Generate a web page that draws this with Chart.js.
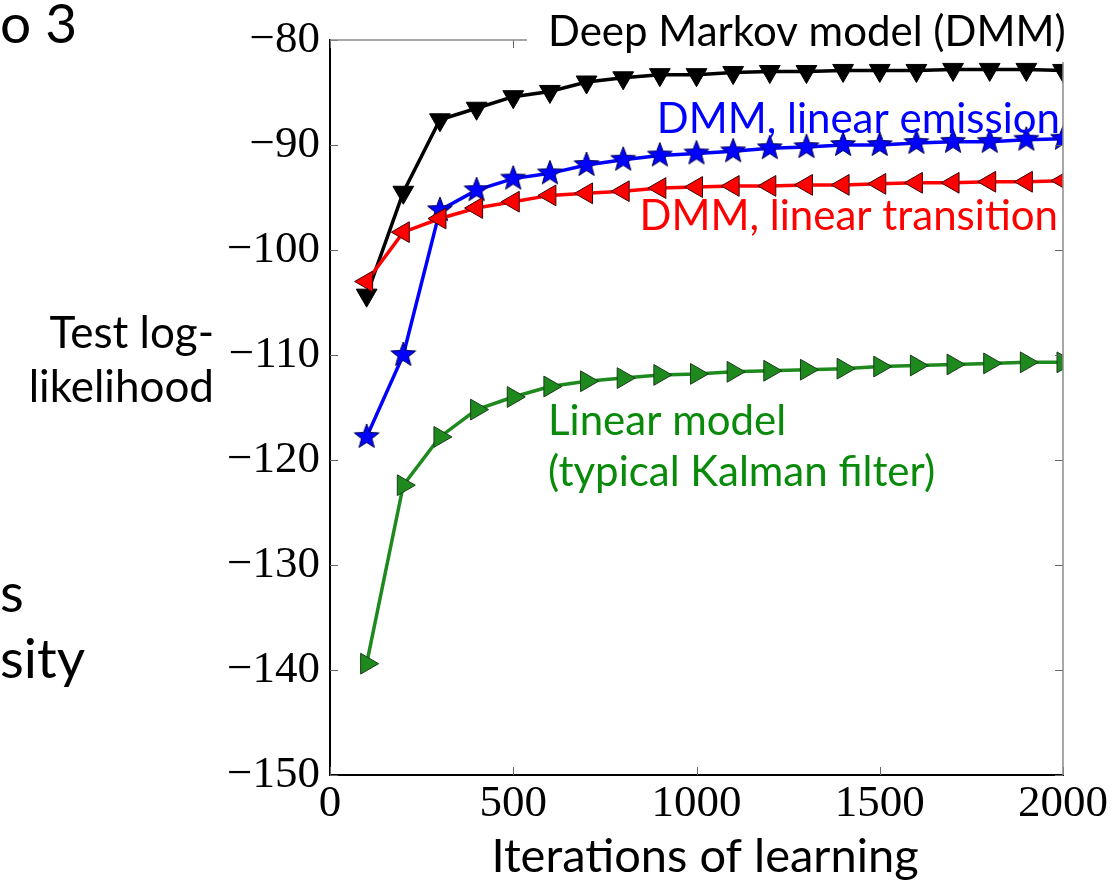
<!DOCTYPE html>
<html>
<head>
<meta charset="utf-8">
<script src="https://cdn.jsdelivr.net/npm/chart.js@4.4.1/dist/chart.umd.min.js"></script>
<style>
  html, body { margin: 0; padding: 0; background: #fff; }
  #wrap { width: 1120px; height: 884px; }
</style>
</head>
<body>
<div id="wrap"><canvas id="chart" width="1120" height="884"></canvas></div>
<script>
// iterations of learning (x values)
const iterations = [100, 200, 300, 400, 500, 600, 700, 800, 900, 1000,
  1100, 1200, 1300, 1400, 1500, 1600, 1700, 1800, 1900, 2000];

// test log-likelihood per model
const dmm = [-104.3, -94.5, -87.6, -86.5, -85.4, -84.9, -84.0, -83.6, -83.3, -83.3,
  -83.1, -83.0, -83.0, -82.9, -82.9, -82.9, -82.8, -82.8, -82.8, -82.9];
const dmmLinEmission = [-117.8, -110.0, -96.2, -94.3, -93.2, -92.7, -91.9, -91.4, -91.0, -90.8,
  -90.6, -90.3, -90.2, -90.0, -90.0, -89.8, -89.7, -89.7, -89.5, -89.4];
const dmmLinTransition = [-103.0, -98.3, -97.0, -96.0, -95.4, -94.8, -94.6, -94.4, -94.1, -94.0,
  -93.9, -93.9, -93.8, -93.8, -93.7, -93.6, -93.6, -93.5, -93.5, -93.4];
const linearModel = [-139.4, -122.4, -117.8, -115.2, -114.0, -113.0, -112.5, -112.2, -111.9, -111.8,
  -111.6, -111.5, -111.4, -111.3, -111.1, -111.0, -110.9, -110.8, -110.7, -110.7];

const xTicks = [0, 500, 1000, 1500, 2000];
const yTicks = [-150, -140, -130, -120, -110, -100, -90, -80];

function pts(ys) {
  return iterations.map((x, i) => ({ x: x, y: ys[i] }));
}

// filled 5-point star marker
function starMarker(fill, edge) {
  const c = document.createElement('canvas');
  c.width = 28; c.height = 28;
  const g = c.getContext('2d');
  g.beginPath();
  for (let i = 0; i < 10; i++) {
    const r = i % 2 === 0 ? 13 : 5.5;
    const a = -Math.PI / 2 + i * Math.PI / 5;
    const px = 14 + Math.cos(a) * r, py = 14 + Math.sin(a) * r;
    if (i === 0) g.moveTo(px, py); else g.lineTo(px, py);
  }
  g.closePath();
  g.fillStyle = fill;
  g.fill();
  g.lineWidth = 1;
  g.strokeStyle = edge;
  g.stroke();
  return c;
}

const serif = "'Liberation Serif', 'DejaVu Serif', serif";
const sans = "Lato, 'Open Sans', sans-serif";

const overlay = {
  id: 'overlay',
  afterDraw(chart) {
    const ctx = chart.ctx;
    const a = chart.chartArea;
    const xs = chart.scales.x, ys = chart.scales.y;
    ctx.save();
    // inner tick marks, matplotlib style
    ctx.strokeStyle = '#666';
    ctx.lineWidth = 1;
    yTicks.forEach(v => {
      const py = Math.round(ys.getPixelForValue(v)) + 0.5;
      ctx.beginPath();
      ctx.moveTo(a.left, py); ctx.lineTo(a.left + 8, py);
      ctx.moveTo(a.right, py); ctx.lineTo(a.right - 8, py);
      ctx.stroke();
    });
    xTicks.forEach(v => {
      const px = Math.round(xs.getPixelForValue(v)) + 0.5;
      ctx.beginPath();
      ctx.moveTo(px, a.bottom); ctx.lineTo(px, a.bottom - 8);
      ctx.moveTo(px, a.top); ctx.lineTo(px, a.top + 8);
      ctx.stroke();
    });
    // top and right spines
    ctx.strokeStyle = '#8a8a8a';
    ctx.lineWidth = 1.5;
    ctx.beginPath();
    ctx.moveTo(a.left, a.top); ctx.lineTo(a.right, a.top); ctx.lineTo(a.right, a.bottom);
    ctx.stroke();
    // slide title box covering part of the frame
    ctx.fillStyle = '#fff';
    ctx.fillRect(527, 0, 593, 62);

    ctx.textBaseline = 'alphabetic';
    ctx.font = '42px ' + sans;
    ctx.fillStyle = '#000';
    ctx.textAlign = 'left';
    ctx.fillText('Deep Markov model (DMM)', 548, 46);

    ctx.fillStyle = '#0000ff';
    ctx.textAlign = 'right';
    ctx.fillText('DMM, linear emission', 1060, 133);
    ctx.fillStyle = '#ff0000';
    ctx.fillText('DMM, linear transition', 1058, 230);

    ctx.fillStyle = '#0a8a0a';
    ctx.textAlign = 'left';
    ctx.fillText('Linear model', 548, 435);
    ctx.fillText('(typical Kalman filter)', 548, 486);

    ctx.fillStyle = '#000';
    ctx.font = '44px ' + sans;
    ctx.textAlign = 'right';
    ctx.fillText('Test log-', 214, 348);
    ctx.fillText('likelihood', 214, 402);

    ctx.textAlign = 'left';
    ctx.font = '55px ' + sans;
    ctx.fillText('o 3', 0, 43);
    ctx.fillText('s', 0, 612);
    ctx.fillText('sity', 0, 678);

    ctx.textAlign = 'center';
    ctx.font = '47px ' + sans;
    ctx.fillText('Iterations of learning', 705, 872);
    ctx.restore();
  }
};

const mk = (label, data, color, edge, style, rot, r) => ({
  label: label,
  data: pts(data),
  borderColor: color,
  backgroundColor: color,
  borderWidth: 3.5,
  pointStyle: style,
  pointRotation: rot,
  pointRadius: r,
  pointBorderColor: edge,
  pointBorderWidth: 1,
  pointBackgroundColor: color,
  tension: 0,
  clip: 0
});

new Chart(document.getElementById('chart'), {
  type: 'line',
  data: {
    datasets: [
      mk('Linear model', linearModel, '#1e8a1e', '#1a3a1a', 'triangle', 90, 12),
      mk('DMM, linear transition', dmmLinTransition, '#ff0000', '#3a0000', 'triangle', 270, 12),
      mk('DMM, linear emission', dmmLinEmission, '#0000ff', '#000040', starMarker('#0000ff', '#000050'), 0, 13),
      mk('Deep Markov model (DMM)', dmm, '#000000', '#000000', 'triangle', 180, 12)
    ]
  },
  options: {
    responsive: false,
    animation: false,
    layout: { padding: { left: 0, right: 57, top: 40, bottom: 0 } },
    plugins: { legend: { display: false }, tooltip: { enabled: false } },
    scales: {
      x: {
        type: 'linear',
        min: 0, max: 2000,
        afterFit: s => { s.height = 109; },
        afterBuildTicks: s => { s.ticks = xTicks.map(v => ({ value: v })); },
        grid: { drawOnChartArea: false, drawTicks: false },
        border: { color: '#000', width: 2 },
        ticks: {
          padding: 2,
          maxRotation: 0,
          color: '#000',
          font: { family: serif, size: 45 },
          callback: v => String(v)
        }
      },
      y: {
        min: -150, max: -80,
        afterFit: s => { s.width = 330; },
        afterBuildTicks: s => { s.ticks = yTicks.map(v => ({ value: v })); },
        grid: { drawOnChartArea: false, drawTicks: false },
        border: { color: '#000', width: 2 },
        ticks: {
          padding: 10,
          color: '#000',
          font: { family: serif, size: 45 },
          callback: v => String(v).replace('-', '\u2212')
        }
      }
    }
  },
  plugins: [overlay]
});
</script>
</body>
</html>
